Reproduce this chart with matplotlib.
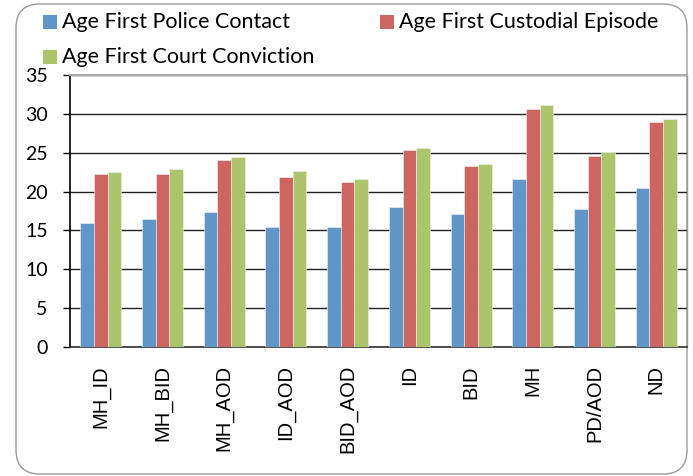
import matplotlib
matplotlib.use("Agg")
import matplotlib.pyplot as plt
import numpy as np
from matplotlib.patches import FancyBboxPatch, Rectangle
from matplotlib.transforms import IdentityTransform

categories = ["MH_ID", "MH_BID", "MH_AOD", "ID_AOD", "BID_AOD", "ID", "BID", "MH", "PD/AOD", "ND"]
police = [15.9, 16.5, 17.4, 15.4, 15.4, 18.0, 17.1, 21.6, 17.8, 20.5]
custodial = [22.2, 22.3, 24.0, 21.9, 21.2, 25.4, 23.3, 30.6, 24.6, 29.0]
court = [22.5, 22.9, 24.5, 22.6, 21.6, 25.6, 23.5, 31.2, 25.1, 29.3]

series_names = ["Age First Police Contact", "Age First Custodial Episode", "Age First Court Conviction"]
colors = ["#6096C8", "#CD6660", "#ACC46C"]

W, H = 693, 476
fig = plt.figure(figsize=(W / 100, H / 100), dpi=100)

# rounded chart frame (pixel coords, origin bottom-left)
frame = FancyBboxPatch((16, H - 474), 671, 470, boxstyle="round,pad=0,rounding_size=24",
                       transform=IdentityTransform(), facecolor="white", edgecolor="#9a9a9a",
                       linewidth=1.0, zorder=-1)
fig.patches.append(frame)

ax = fig.add_axes([70 / W, (H - 347) / H, (687 - 70) / W, (347 - 75) / H])
ax.set_facecolor("none")

x = np.arange(len(categories))
w = 0.222
for off, vals, c in zip((-w, 0, w), (police, custodial, court), colors):
    ax.bar(x + off, vals, width=w, color=c, edgecolor="#f0f0f0", linewidth=0.4, zorder=3)

ax.set_xlim(-0.5, len(categories) - 0.5)
ax.set_ylim(0, 35)
ax.set_yticks(range(0, 36, 5))
ax.yaxis.grid(True, color="#222222", linewidth=1.0, zorder=1)
ax.set_axisbelow(True)

ax.set_xticks(x)
ax.set_xticklabels(categories, rotation=90, fontsize=14.5, family="Liberation Sans")
ax.tick_params(axis="x", length=0, pad=13)
ax.tick_params(axis="y", length=5, width=1, color="black", direction="out", pad=11, labelsize=14)
for lab in ax.get_yticklabels():
    lab.set_family("Lato")

ax.spines["left"].set_color("black")
ax.spines["left"].set_linewidth(1.2)
ax.spines["bottom"].set_color("#333333")
ax.spines["bottom"].set_linewidth(1.2)
ax.spines["top"].set_color("#aaaaaa")
ax.spines["top"].set_linewidth(1.5)
ax.spines["right"].set_color("#9a9a9a")
ax.spines["right"].set_linewidth(1.0)

# legend at top (pixel positions of the original)
legend_pos = [(43, 22), (380, 22), (43, 57)]
for (lx, ly), name, c in zip(legend_pos, series_names, colors):
    fig.patches.append(Rectangle((lx, H - ly - 7), 14, 14, transform=IdentityTransform(),
                                 facecolor=c, edgecolor="none"))
    fig.text((lx + 19) / W, (H - ly) / H, name, fontsize=15.5, family="Lato",
             ha="left", va="center")

fig.savefig("out.png", dpi=100)
